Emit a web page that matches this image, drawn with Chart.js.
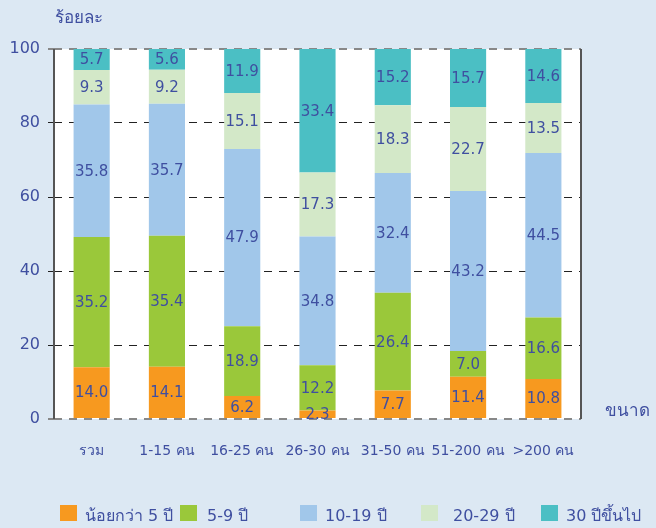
<!DOCTYPE html>
<html>
<head>
<meta charset="utf-8">
<script src="https://cdn.jsdelivr.net/npm/chart.js@4.4.1/dist/chart.umd.min.js"></script>
<style>
  html, body { margin: 0; padding: 0; background: #dce8f3; }
  #wrap { position: relative; width: 656px; height: 528px; }
  #legend { position: absolute; left: 0; top: 505px; width: 656px; height: 20px;
            font-family: "DejaVu Sans", "Noto Sans", sans-serif; font-size: 16px; color: #3f4fa0; }
  .item { position: absolute; top: 0; white-space: nowrap; }
  .box { position: absolute; top: 0; left: 0; width: 17px; height: 16px; }
  .lbl { position: absolute; top: -2px; }
</style>
</head>
<body>
<div id="wrap">
  <canvas id="chart" width="656" height="528"></canvas>
  <div id="legend"></div>
</div>
<script>
const categories = ['รวม', '1-15 คน', '16-25 คน', '26-30 คน', '31-50 คน', '51-200 คน', '>200 คน'];
const seriesNames = ['น้อยกว่า 5 ปี', '5-9 ปี', '10-19 ปี', '20-29 ปี', '30 ปีขึ้นไป'];
const under5 = [14.0, 14.1, 6.2, 2.3, 7.7, 11.4, 10.8];
const y5to9 = [35.2, 35.4, 18.9, 12.2, 26.4, 7.0, 16.6];
const y10to19 = [35.8, 35.7, 47.9, 34.8, 32.4, 43.2, 44.5];
const y20to29 = [9.3, 9.2, 15.1, 17.3, 18.3, 22.7, 13.5];
const y30plus = [5.7, 5.6, 11.9, 33.4, 15.2, 15.7, 14.6];
const yTicks = [0, 20, 40, 60, 80, 100];

const colors = ['#f7991f', '#9ac83a', '#a1c7ea', '#d3e8c8', '#4bbfc4'];
const textColor = '#3f4fa0';
const fontFamily = '"DejaVu Sans", "Noto Sans", sans-serif';
const allSeries = [under5, y5to9, y10to19, y20to29, y30plus];

// white plot area, value labels, axis lines and titles
const extras = {
    id: 'extras',
    beforeDraw(chart) {
        const a = chart.chartArea;
        chart.ctx.save();
        chart.ctx.fillStyle = '#ffffff';
        chart.ctx.fillRect(a.left, a.top, a.right - a.left, a.bottom - a.top);
        chart.ctx.restore();
    },
    afterDatasetsDraw(chart) {
        const ctx = chart.ctx;
        ctx.save();
        ctx.font = '15px ' + fontFamily;
        ctx.fillStyle = textColor;
        ctx.textAlign = 'center';
        ctx.textBaseline = 'middle';
        chart.data.datasets.forEach((ds, i) => {
            chart.getDatasetMeta(i).data.forEach((bar, j) => {
                const yMid = (bar.y + bar.base) / 2;
                ctx.fillText(ds.data[j].toFixed(1), bar.x, yMid + 1);
            });
        });
        const a = chart.chartArea;
        ctx.strokeStyle = '#555';
        ctx.lineWidth = 2;
        ctx.beginPath();
        ctx.moveTo(a.left, a.top);
        ctx.lineTo(a.left, a.bottom);
        ctx.moveTo(a.right, a.top);
        ctx.lineTo(a.right, a.bottom);
        ctx.stroke();
        ctx.font = '17px ' + fontFamily;
        ctx.textAlign = 'left';
        ctx.fillText('ร้อยละ', 55, 19);
        ctx.fillText('ขนาด', 605, 412);
        ctx.restore();
    }
};

new Chart(document.getElementById('chart'), {
    type: 'bar',
    data: {
        labels: categories,
        datasets: allSeries.map((d, i) => ({
            label: seriesNames[i],
            data: d,
            backgroundColor: colors[i],
            borderWidth: 0,
            barPercentage: 0.48,
            categoryPercentage: 1.0
        }))
    },
    options: {
        responsive: false,
        animation: false,
        layout: { padding: { top: 49, right: 75, left: 0, bottom: 0 } },
        plugins: { legend: { display: false }, tooltip: { enabled: false } },
        scales: {
            x: {
                stacked: true,
                grid: { display: false, drawTicks: false },
                border: { display: false },
                ticks: { color: textColor, font: { family: fontFamily, size: 14 }, padding: 24, maxRotation: 0, autoSkip: false },
                afterFit(scale) { scale.height = 109; }
            },
            y: {
                stacked: true,
                min: 0,
                max: 100,
                afterBuildTicks(scale) { scale.ticks = yTicks.map(v => ({ value: v })); },
                grid: {
                    color: c => (c.tick && (c.tick.value === 0 || c.tick.value === 100)) ? '#888' : '#222',
                    lineWidth: c => (c.tick && (c.tick.value === 0 || c.tick.value === 100)) ? 2 : 1,
                    tickLength: 6
                },
                border: { display: false, dash: [8, 7] },
                ticks: { color: textColor, font: { family: fontFamily, size: 16 }, padding: 8 },
                afterFit(scale) { scale.width = 54; }
            }
        }
    },
    plugins: [extras]
});

// legend
const boxPos = [60, 180, 300, 421, 541];
const textPos = [85, 207, 325, 453, 566];
const legend = document.getElementById('legend');
seriesNames.forEach((name, i) => {
    const item = document.createElement('div');
    item.className = 'item';
    item.style.left = boxPos[i] + 'px';
    item.innerHTML = '<span class="box" style="background:' + colors[i] + '"></span>' +
        '<span class="lbl" style="left:' + (textPos[i] - boxPos[i]) + 'px">' + name + '</span>';
    legend.appendChild(item);
});
</script>
</body>
</html>
